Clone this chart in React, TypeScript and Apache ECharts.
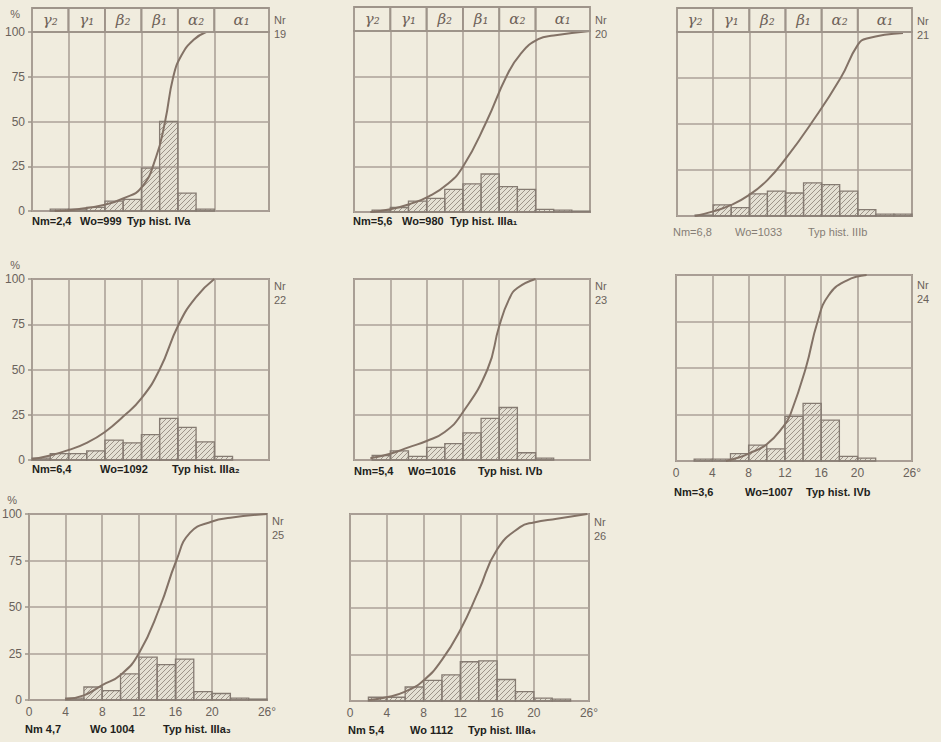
import React, { useEffect, useRef } from 'react';
import * as echarts from 'echarts';

// ---------- data ----------
const binEdges = [0, 2, 4, 6, 8, 10, 12, 14, 16, 18, 20, 22, 24, 26];
const xTicks = [0, 4, 8, 12, 16, 20, 26];
const classBounds = [0, 4, 8, 12, 16, 20, 26];
const classLabels = ['γ₂', 'γ₁', 'β₂', 'β₁', 'α₂', 'α₁'];

// histogram heights (%) per 2° bin: 0-2, 2-4, ..., 24-26
const hist19 = [0, 1, 1, 2, 5.5, 6.5, 24, 50, 10, 1, 0, 0, 0];
const hist20 = [0, 1, 2.5, 6, 7.5, 12.5, 15.5, 21, 14, 12.5, 1.5, 1, 0.5];
const hist21 = [0, 0.5, 6, 4.5, 12, 13.5, 12.5, 18, 17, 13.5, 3.5, 1, 1];
const hist22 = [1, 3.5, 3.5, 5, 11, 9.5, 14, 23, 18, 10, 2, 0, 0];
const hist23 = [0, 2.5, 5, 2, 7, 9, 15, 23, 29, 4, 1, 0, 0];
const hist24 = [0, 1, 1, 4, 8.5, 6.5, 24, 31, 22, 2.5, 1.5, 0, 0];
const hist25 = [0, 0, 1, 7, 5, 14, 23, 19, 22, 4.5, 3.5, 1, 0.5];
const hist26 = [0, 2, 2, 7.5, 11, 14, 21, 21.5, 11.5, 5, 1.5, 1, 0];

// cumulative curves [degree, %]
const curve19 = [[2.5, 0], [5, 1], [8, 3.5], [10, 7], [12, 13], [13.6, 30], [14.6, 50], [15.5, 75], [16.4, 87], [17.7, 95.5], [19.1, 100]];
const curve20 = [[1.8, 0], [4, 1.5], [6.2, 4.5], [8.2, 8.5], [10.2, 15], [12, 25], [14.6, 50], [16.8, 75], [18.3, 87], [20.3, 95.5], [22, 97.5], [26, 100]];
const curve21 = [[2, 0], [4, 2.5], [6, 6], [8, 11.5], [10, 19.5], [12, 31], [14.8, 50], [18.1, 75], [20, 93], [21, 96.5], [25, 99.5]];
const curve22 = [[0, 0.5], [2, 2.5], [4, 5.5], [6, 9.5], [8, 15.5], [10, 24], [12, 34], [14, 50], [16.1, 75], [18, 90], [20, 100]];
const curve23 = [[1.8, 1], [4, 3.5], [6, 7], [8, 10.5], [10, 15.5], [11.8, 25], [14.7, 50], [16, 74], [17.1, 89], [18, 95], [20, 100]];
const curve24 = [[5.5, 0], [7, 2], [8, 4], [10, 9], [11.9, 19], [12.6, 25], [14.3, 50], [15.6, 75], [16.8, 89], [18.8, 97], [21, 100]];
const curve25 = [[4, 0.5], [6, 2.5], [8, 8], [10, 13.5], [12, 25], [14.3, 50], [16.1, 75], [17.6, 90], [20, 96], [22, 98], [26, 100]];
const curve26 = [[2, 0.5], [4, 2], [6, 5], [8, 11], [10, 22], [12, 38], [14, 59], [16, 81], [18.5, 93], [20, 95.5], [22.5, 97.5], [25.8, 100]];

const panelIds = ['19', '20', '21', '22', '23', '24', '25', '26'];
const nmValues = ['2,4', '5,6', '6,8', '6,4', '5,4', '3,6', '4,7', '5,4'];
const woValues = ['999', '980', '1033', '1092', '1016', '1007', '1004', '1112'];
const typValues = ['IVa', 'IIIa₁', 'IIIb', 'IIIa₂', 'IVb', 'IVb', 'IIIa₃', 'IIIa₄'];
const eqSigns = ['=', '=', '=', '=', '=', '=', ' ', ' '];

const hists = [hist19, hist20, hist21, hist22, hist23, hist24, hist25, hist26];
const curves = [curve19, curve20, curve21, curve22, curve23, curve24, curve25, curve26];

// ---------- layout / style ----------
const LAYOUT = [
  { left: 32, top: 32, width: 237, height: 179, header: true, yLab: true, xLab: false, foot: [32, 80, 127, 221], nrY: 13 },
  { left: 354, top: 31, width: 236, height: 181, header: true, yLab: false, xLab: false, foot: [353, 402, 450, 221], nrY: 13 },
  { left: 677, top: 32, width: 235, height: 184, header: true, yLab: false, xLab: false, foot: [673, 735, 808, 232], nrY: 14, light: true },
  { left: 32, top: 279, width: 237, height: 181, header: false, yLab: true, xLab: false, foot: [32, 100, 172, 469], nrY: 279 },
  { left: 354, top: 279, width: 236, height: 181, header: false, yLab: false, xLab: false, foot: [354, 408, 478, 471], nrY: 279 },
  { left: 676, top: 275, width: 236, height: 186, header: false, yLab: false, xLab: true, foot: [674, 745, 806, 492], nrY: 278 },
  { left: 29, top: 514, width: 238, height: 186, header: false, yLab: true, xLab: true, foot: [25, 90, 163, 729], nrY: 514 },
  { left: 350, top: 514, width: 239, height: 187, header: false, yLab: false, xLab: true, foot: [348, 410, 468, 730], nrY: 515 },
];

const BG = '#f0ecde';
const GRID = '#aca298';
const BORDER = '#9e948a';
const CURVE = '#837266';
const HATCH = '#958b81';
const BARSTROKE = '#857b72';
const LABEL = '#6a625b';
const FOOT = '#221e1b';
const FOOT_LIGHT = '#857d75';
const SANS = '"Liberation Sans Narrow", "Liberation Sans", Arial, sans-serif';

function renderHist(params: any, api: any) {
  const x0 = api.value(0);
  const x1 = api.value(1);
  const h = api.value(2);
  const pTop = api.coord([x0, h]);
  const pBot = api.coord([x1, 0]);
  const rx = pTop[0];
  const ry = pTop[1];
  const rw = pBot[0] - pTop[0];
  const rh = pBot[1] - pTop[1];
  const children: any[] = [];
  children.push({
    type: 'rect',
    shape: { x: rx, y: ry, width: rw, height: rh },
    style: { fill: 'rgba(150,140,128,0.12)', stroke: 'none' },
  });
  const step = 5;
  const cMin = Math.ceil((rx + ry) / step) * step;
  const cMax = rx + rw + ry + rh;
  for (let c = cMin; c <= cMax; c += step) {
    const xa = Math.max(rx, c - (ry + rh));
    const xb = Math.min(rx + rw, c - ry);
    if (xb - xa > 0.2) {
      children.push({
        type: 'line',
        shape: { x1: xa, y1: c - xa, x2: xb, y2: c - xb },
        style: { stroke: HATCH, lineWidth: 0.9 },
      });
    }
  }
  children.push({
    type: 'rect',
    shape: { x: rx, y: ry, width: rw, height: rh },
    style: { fill: 'none', stroke: BARSTROKE, lineWidth: 1.3 },
  });
  return { type: 'group', children };
}

function renderHeader(params: any, api: any) {
  const a = api.coord([api.value(0), 100]);
  const b = api.coord([api.value(1), 100]);
  const hh = 24;
  return {
    type: 'group',
    children: [
      {
        type: 'rect',
        shape: { x: a[0], y: a[1] - hh, width: b[0] - a[0], height: hh },
        style: { fill: 'none', stroke: BORDER, lineWidth: 1.8 },
      },
      {
        type: 'text',
        x: (a[0] + b[0]) / 2,
        y: a[1] - hh / 2,
        style: {
          text: classLabels[params.dataIndex],
          fill: '#6e6259',
          fontSize: 15,
          fontStyle: 'italic',
          fontFamily: '"DejaVu Serif", "Liberation Serif", serif',
          align: 'center',
          verticalAlign: 'middle',
        },
      },
    ],
  };
}

function buildOption() {
  const grids: any[] = [];
  const xAxes: any[] = [];
  const yAxes: any[] = [];
  const series: any[] = [];
  const graphics: any[] = [];
  const headerData = classBounds.slice(0, -1).map((b, k) => [b, classBounds[k + 1]]);

  LAYOUT.forEach((L, i) => {
    grids.push({
      left: L.left, top: L.top, width: L.width, height: L.height,
      show: true, borderColor: BORDER, borderWidth: 2, backgroundColor: 'transparent',
      containLabel: false, outerBoundsMode: 'none',
    });
    xAxes.push({
      gridIndex: i, type: 'value', min: 0, max: 26,
      axisLine: { show: false },
      axisTick: { show: false, customValues: xTicks },
      axisLabel: {
        show: L.xLab, customValues: xTicks, margin: 6,
        color: LABEL, fontSize: 12, fontFamily: SANS,
        formatter: (v: number) => (v === 26 ? '26°' : String(v)),
      },
      splitLine: { show: true, lineStyle: { color: GRID, width: 1.6 } },
    });
    yAxes.push({
      gridIndex: i, type: 'value', min: 0, max: 100, interval: 25,
      axisLine: { show: false },
      axisTick: { show: L.yLab, length: 4, lineStyle: { color: BORDER, width: 1.5 } },
      axisLabel: { show: L.yLab, margin: 7, color: LABEL, fontSize: 12, fontFamily: SANS },
      splitLine: { show: true, lineStyle: { color: GRID, width: 1.6 } },
      name: L.yLab ? '%' : '',
      nameLocation: 'end',
      nameGap: L.header ? 13 : 9,
      nameTextStyle: { color: LABEL, fontSize: 11, fontFamily: SANS, align: 'right', verticalAlign: 'bottom', padding: [0, 12, 0, 0] },
    });
    const histData = hists[i]
      .map((h, k) => [binEdges[k], binEdges[k + 1], h])
      .filter((d) => d[2] > 0);
    series.push({
      type: 'custom', xAxisIndex: i, yAxisIndex: i, renderItem: renderHist,
      encode: { x: [0, 1], y: 2 }, data: histData, z: 2, silent: true,
    });
    series.push({
      type: 'line', xAxisIndex: i, yAxisIndex: i, data: curves[i],
      smooth: 0.5, showSymbol: false, symbol: 'none',
      lineStyle: { color: CURVE, width: 2 }, z: 3, silent: true,
    });
    if (L.header) {
      series.push({
        type: 'custom', xAxisIndex: i, yAxisIndex: i, renderItem: renderHeader,
        encode: { x: [0, 1] }, data: headerData, clip: false, z: 4, silent: true,
      });
    }
    graphics.push({
      type: 'text', x: L.left + L.width + 5, y: L.nrY,
      style: { text: 'Nr\n' + panelIds[i], fill: LABEL, fontSize: 11, lineHeight: 14, fontFamily: SANS },
    });
    const [fx1, fx2, fx3, fy] = L.foot;
    const fstyle = {
      fill: L.light ? FOOT_LIGHT : FOOT,
      fontSize: 11,
      fontWeight: L.light ? 'normal' : 'bold',
      fontFamily: SANS,
      verticalAlign: 'middle',
    };
    graphics.push({ type: 'text', x: fx1, y: fy, style: { ...fstyle, text: 'Nm' + eqSigns[i] + nmValues[i] } });
    graphics.push({ type: 'text', x: fx2, y: fy, style: { ...fstyle, text: 'Wo' + eqSigns[i] + woValues[i] } });
    graphics.push({ type: 'text', x: fx3, y: fy, style: { ...fstyle, text: 'Typ hist. ' + typValues[i] } });
  });

  return {
    animation: false,
    backgroundColor: BG,
    grid: grids,
    xAxis: xAxes,
    yAxis: yAxes,
    series,
    graphic: graphics,
  };
}

export default function App() {
  const ref = useRef<HTMLDivElement>(null);
  useEffect(() => {
    document.body.style.margin = '0';
    document.body.style.background = BG;
    if (!ref.current) return;
    const chart = echarts.init(ref.current, undefined, { renderer: 'svg' });
    chart.setOption(buildOption() as any);
    return () => chart.dispose();
  }, []);
  return (
    <div
      ref={ref}
      style={{ position: 'fixed', left: 0, top: 0, width: 941, height: 742, background: BG }}
    />
  );
}
